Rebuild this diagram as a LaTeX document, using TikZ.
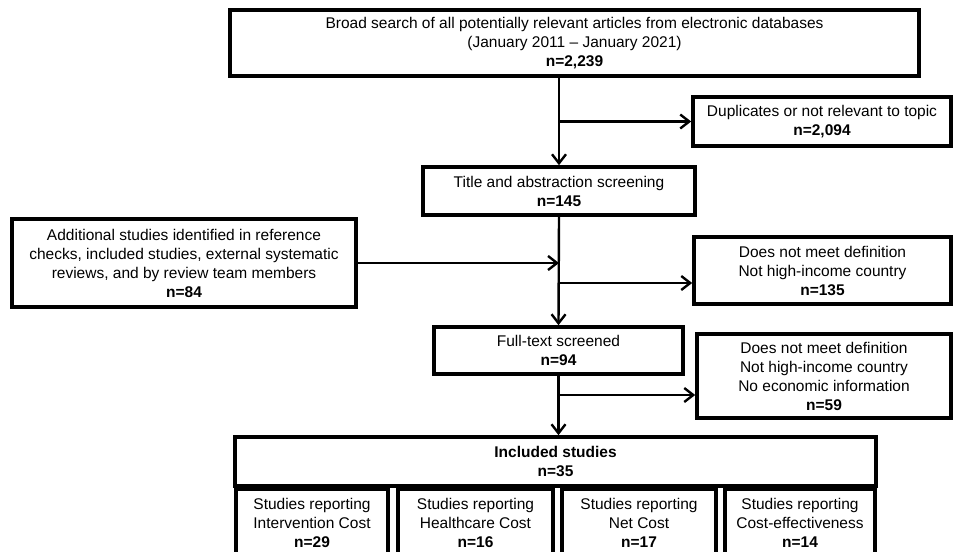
\documentclass[tikz,border=0pt]{standalone}
\usepackage{fontspec}
\setmainfont{Liberation Sans}
\usetikzlibrary{arrows.meta}
\begin{document}
\begin{tikzpicture}[x=1pt,y=-1pt,
    flow box/.style={draw,line width=3.6pt,align=center,inner sep=0pt,font=\fontsize{15.5}{19}\selectfont},
    flow/.style={line width=2.4pt,-{Straight Barb[length=9pt,width=14pt,line width=2.4pt]}}]
        \useasboundingbox (0,0) rectangle (954,552);
        \clip (0,0) rectangle (954,552);

        \node[flow box,minimum width=689,minimum height=66] at (574.5,43) (search) {Broad search of all potentially relevant articles from electronic databases\\(January 2011 -- January 2021)\\\textbf{n=2,239}};
        \node[flow box,minimum width=258,minimum height=49] at (822,121.5) (dup) {Duplicates or not relevant to topic\\\textbf{n=2,094}};
        \node[flow box,minimum width=272,minimum height=48] at (559,191) (title) {Title and abstraction screening\\\textbf{n=145}};
        \node[flow box,minimum width=344,minimum height=88] at (184,263) (additional) {Additional studies identified in reference\\checks, included studies, external systematic\\reviews, and by review team members\\\textbf{n=84}};
        \node[flow box,minimum width=257,minimum height=67] at (822.5,270.5) (excl1) {Does not meet definition\\Not high-income country\\\textbf{n=135}};
        \node[flow box,minimum width=249,minimum height=47] at (558.5,350.5) (full) {Full-text screened\\\textbf{n=94}};
        \node[flow box,minimum width=254,minimum height=84] at (824,376) (excl2) {Does not meet definition\\Not high-income country\\No economic information\\\textbf{n=59}};
        \node[flow box,minimum width=641,minimum height=49] at (555.5,461.5) (incl) {\textbf{Included studies}\\\textbf{n=35}};

        % reporting categories
        \node[flow box,minimum width=152,minimum height=67] at (312,522.5) (intervention) {Studies reporting\\Intervention Cost\\\textbf{n=29}};
        \node[flow box,minimum width=155,minimum height=67] at (475.5,522.5) (healthcare) {Studies reporting\\Healthcare Cost\\\textbf{n=16}};
        \node[flow box,minimum width=154,minimum height=67] at (639,522.5) (net) {Studies reporting\\Net Cost\\\textbf{n=17}};
        \node[flow box,minimum width=150,minimum height=67] at (800,522.5) (ce) {Studies reporting\\Cost-effectiveness\\\textbf{n=14}};

        \coordinate (b2) at (559,283);
        \coordinate (b3) at (559,395);

        \draw[flow] (title |- search.south) -- (title.north);
        \draw[flow] (title |- dup.west) -- (dup.west);
        \draw[flow] (title.south) -- (full.north);
        \draw[flow] (additional.east) -- (additional.east -| title);
        \draw[flow] (b2) -- (b2 -| excl1.west);
        \draw[flow] (full.south) -- (full.south |- incl.north);
        \draw[flow] (b3) -- (b3 -| excl2.west);
    \end{tikzpicture}
\end{document}
